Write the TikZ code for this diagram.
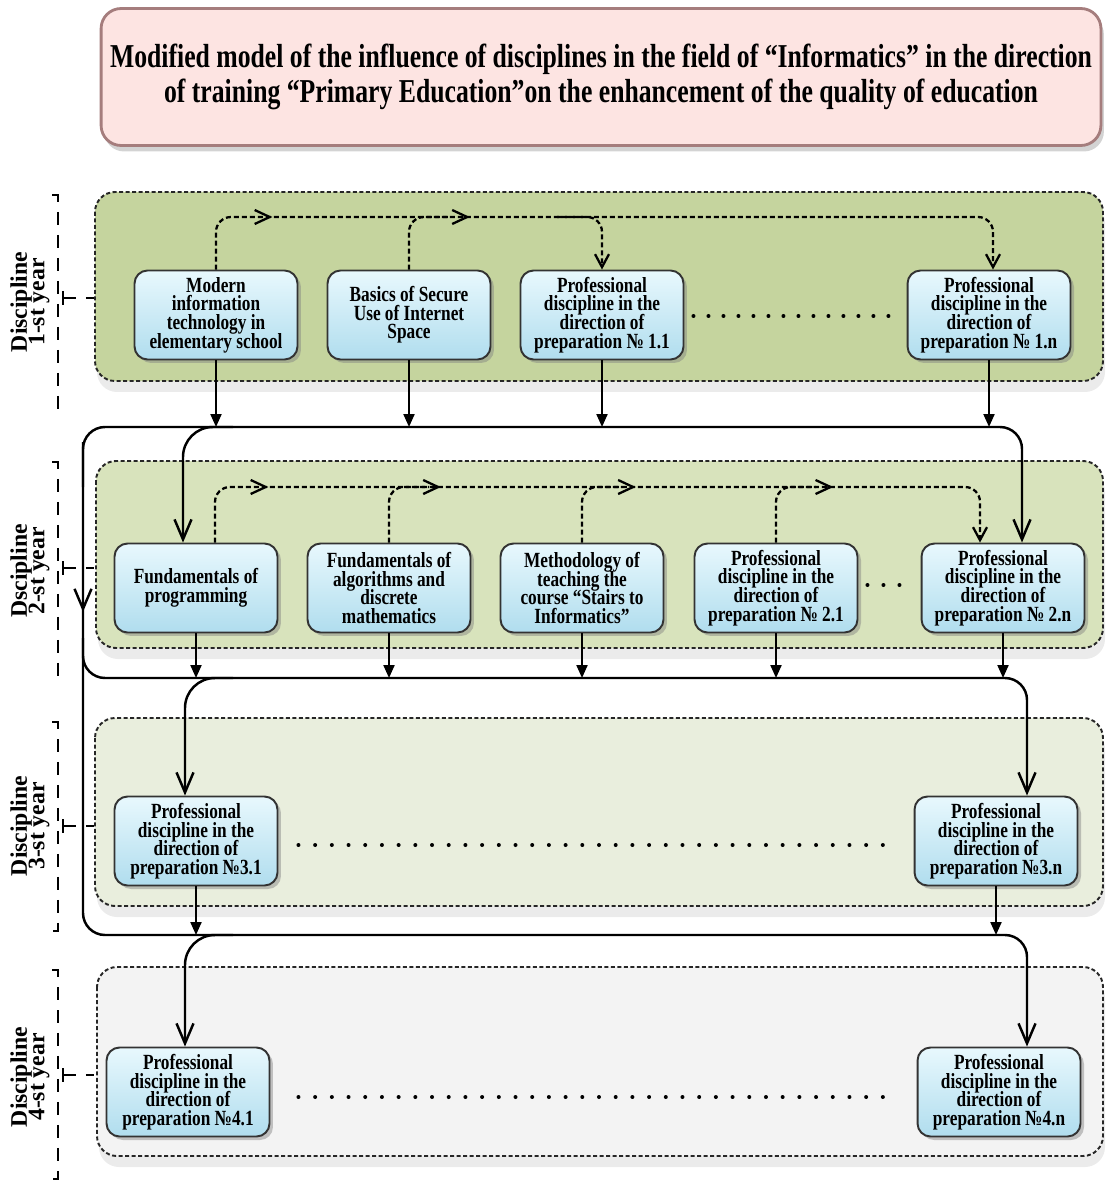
\documentclass[tikz,border=0pt]{standalone}
\usepackage{fontspec}
\setmainfont{Liberation Serif}
\newfontfamily\boxfont[FakeStretch=0.8]{Liberation Serif}
\newfontfamily\titlefont[FakeStretch=0.77]{Liberation Serif}
\usepackage{tikz}
\usetikzlibrary{arrows.meta,shadows,calc,decorations.markings}

\setlength{\lineskiplimit}{-20pt}

\definecolor{boxtop}{RGB}{232,248,253}
\definecolor{boxfill}{RGB}{198,234,246}
\definecolor{boxbot}{RGB}{176,221,238}
\definecolor{yearone}{RGB}{197,212,158}
\definecolor{yeartwo}{RGB}{216,227,188}
\definecolor{yearthree}{RGB}{233,238,221}
\definecolor{yearfour}{RGB}{243,243,243}
\definecolor{titlefill}{RGB}{253,228,226}
\definecolor{titleline}{RGB}{165,125,125}

\tikzset{
  bigtip/.tip={Straight Barb[length=0.4cm,width=0.34cm]},
  smalltip/.tip={Straight Barb[length=0.26cm,width=0.28cm]},
  chev/.tip={Straight Barb[length=0.3cm,width=0.28cm]},
  droptip/.tip={Triangle[length=0.26cm,width=0.22cm]},
  disc/.style={draw=black!80, line width=1.1pt, rounded corners=0.26cm,
    top color=boxtop, middle color=boxfill, bottom color=boxbot,
    minimum width=3.26cm, minimum height=1.78cm, align=center, inner sep=1pt,
    font=\boxfont\bfseries\fontsize{12.3}{10.6}\selectfont,
    drop shadow={shadow xshift=0.07cm, shadow yshift=-0.07cm, opacity=0.45}},
  yearbox/.style={draw=black!85, line width=1.1pt, dash pattern=on 0.08cm off 0.05cm,
    rounded corners=0.4cm,
    drop shadow={shadow xshift=0.04cm, shadow yshift=-0.22cm, opacity=0.16}},
  titlebox/.style={draw=titleline, line width=1.6pt, fill=titlefill, rounded corners=0.4cm,
    minimum width=20cm, minimum height=2.74cm, align=center,
    font=\titlefont\bfseries\fontsize{19}{20}\selectfont,
    drop shadow={shadow xshift=0.06cm, shadow yshift=-0.12cm, opacity=0.35}},
  yearlabel/.style={rotate=90, align=center,
    font=\bfseries\fontsize{13.5}{10}\selectfont},
  bus/.style={line width=1.4pt, rounded corners=0.44cm},
  branch/.style={line width=1.4pt, rounded corners=0.6cm, -bigtip},
  feed/.style={line width=1.2pt, -droptip},
  flow/.style={line width=1.3pt, dash pattern=on 0.1cm off 0.06cm, rounded corners=0.3cm},
  dotrow/.style={line width=0.08cm, line cap=round, dash pattern=on 0pt off #1},
  brk/.style={line width=0.8pt, dash pattern=on 0.26cm off 0.2cm}
}

\begin{document}
\begin{tikzpicture}[x=0.02cm, y=-0.02cm]
    \useasboundingbox (0,0) rectangle (1105,1185);

    \node[titlebox] (title) at (601,77) {Modified model of the influence of disciplines in the field of “Informatics” in the direction\\of training “Primary Education”on the enhancement of the quality of education};

    % year panels
    \draw[yearbox, fill=yearone] (95,192) rectangle (1103,381);
    \draw[yearbox, fill=yeartwo] (96,461) rectangle (1103,648);
    \draw[yearbox, fill=yearthree] (95,718) rectangle (1103,906);
    \draw[yearbox, fill=yearfour] (97,967) rectangle (1103,1156);

    % left brackets
    \foreach \t/\b/\m in {195/409/298, 462/675/568, 722/931/826, 970/1179/1075} {
        \draw[brk] (52,\t) -- (58,\t) -- (58,\b) -- (52,\b);
        \draw[line width=0.8pt] (63,\m-7) -- (63,\m+7);
        \draw[brk] (63,\m) -- (94,\m);
    }
    \node[yearlabel] (lab1) at (30,302) {Discipline\\1-st year};
    \node[yearlabel] (lab2) at (30,571) {Dscipline\\2-st year};
    \node[yearlabel] (lab3) at (30,826) {Discipline\\3-st year};
    \node[yearlabel] (lab4) at (30,1077) {Discipline\\4-st year};

    % 1st year
    \node[disc] (mod) at (216,315) {Modern\\information\\technology in\\elementary school};
    \node[disc] (bas) at (409,315) {Basics of Secure\\Use of Internet\\Space};
    \node[disc] (pro11) at (602,315) {Professional\\discipline in the\\direction of\\preparation № 1.1};
    \node[disc] (pro1n) at (989,315) {Professional\\discipline in the\\direction of\\preparation № 1.n};

    % 2nd year
    \node[disc] (fprog) at (196,588) {Fundamentals of\\programming};
    \node[disc] (falg) at (389,588) {Fundamentals of\\algorithms and\\discrete\\mathematics};
    \node[disc] (meth) at (582,588) {Methodology of\\teaching the\\course “Stairs to\\Informatics”};
    \node[disc] (pro21) at (776,588) {Professional\\discipline in the\\direction of\\preparation № 2.1};
    \node[disc] (pro2n) at (1003,588) {Professional\\discipline in the\\direction of\\preparation № 2.n};

    % 3rd and 4th year
    \node[disc] (pro31) at (196,841) {Professional\\discipline in the\\direction of\\preparation №3.1};
    \node[disc] (pro3n) at (996,841) {Professional\\discipline in the\\direction of\\preparation №3.n};
    \node[disc] (pro41) at (188,1092) {Professional\\discipline in the\\direction of\\preparation №4.1};
    \node[disc] (pro4n) at (999,1092) {Professional\\discipline in the\\direction of\\preparation №4.n};

    \coordinate (bus1) at (83,427);
    \coordinate (bus2) at (83,678);
    \coordinate (bus3) at (83,935);
    \coordinate (dash1) at (0,217);
    \coordinate (dash2) at (0,487);

    % dashed links inside a year
    \draw[flow, -smalltip, postaction={decorate}, decoration={markings,
        mark=at position 2.05cm with {\arrow{chev}}, mark=at position 6cm with {\arrow{chev}}}]
        (mod.north) |- ($(pro1n.north |- dash1)+(4,0)$) -- ($(pro1n.north)+(4,0)$);
    \draw[flow] (bas.north) |- ($(bas.north |- dash1)+(40,0)$);
    \draw[flow, -smalltip] ($(pro11.north |- dash1)+(-45,0)$) -| (pro11.north);

    \draw[flow, -smalltip, postaction={decorate}, decoration={markings,
        mark=at position 2.05cm with {\arrow{chev}}, mark=at position 5.5cm with {\arrow{chev}},
        mark=at position 9.4cm with {\arrow{chev}}, mark=at position 13.35cm with {\arrow{chev}}}]
        ($(fprog.north)+(19,0)$) |- ($(pro2n.north |- dash2)+(-23,0)$) -- ($(pro2n.north)+(-23,0)$);
    \foreach \n in {falg,meth,pro21}
        \draw[flow] (\n.north) |- ($(\n.north |- dash2)+(40,0)$);

    % dots
    \draw[dotrow=0.3cm] ($(pro11.east)+(9,1)$) -- ($(pro1n.west)+(-8,1)$);
    \draw[dotrow=0.32cm] ($(pro21.east)+(9,-3)$) -- ($(pro2n.west)+(-7,-3)$);
    \draw[dotrow=0.334cm] ($(pro31.east)+(20,4)$) -- ($(pro3n.west)+(-15,4)$);
    \draw[dotrow=0.334cm] ($(pro41.east)+(28,5)$) -- ($(pro4n.west)+(-20,5)$);

    % into the buses
    \foreach \n in {mod,bas,pro11,pro1n}
        \draw[feed] (\n.south) -- (\n.south |- bus1);
    \foreach \n in {fprog,falg,meth,pro21,pro2n}
        \draw[feed] (\n.south) -- (\n.south |- bus2);
    \foreach \n in {pro31,pro3n}
        \draw[feed] (\n.south) -- (\n.south |- bus3);

    % buses
    \draw[bus, -bigtip] ($(bus1)+(0,60)$) -- (bus1) -| ($(pro2n.north)+(19,0)$);
    \draw[bus, -bigtip, postaction={decorate}, decoration={markings,
        mark=at position 3.4cm with {\arrow{bigtip}}}]
        ($(bus1)+(0,15)$) -- (bus3) -| ($(pro4n.north)+(28,0)$);
    \draw[bus, -bigtip] ($(bus2)+(0,-40)$) -- (bus2) -| ($(pro3n.north)+(31,0)$);
    \draw[branch] ($(bus1)+(150,0)$) -| ($(fprog.north)+(-13,0)$);
    \draw[branch] ($(bus2)+(150,0)$) -| ($(pro31.north)+(-11,0)$);
    \draw[branch] ($(bus3)+(150,0)$) -| ($(pro41.north)+(-3,0)$);

\end{tikzpicture}
\end{document}
